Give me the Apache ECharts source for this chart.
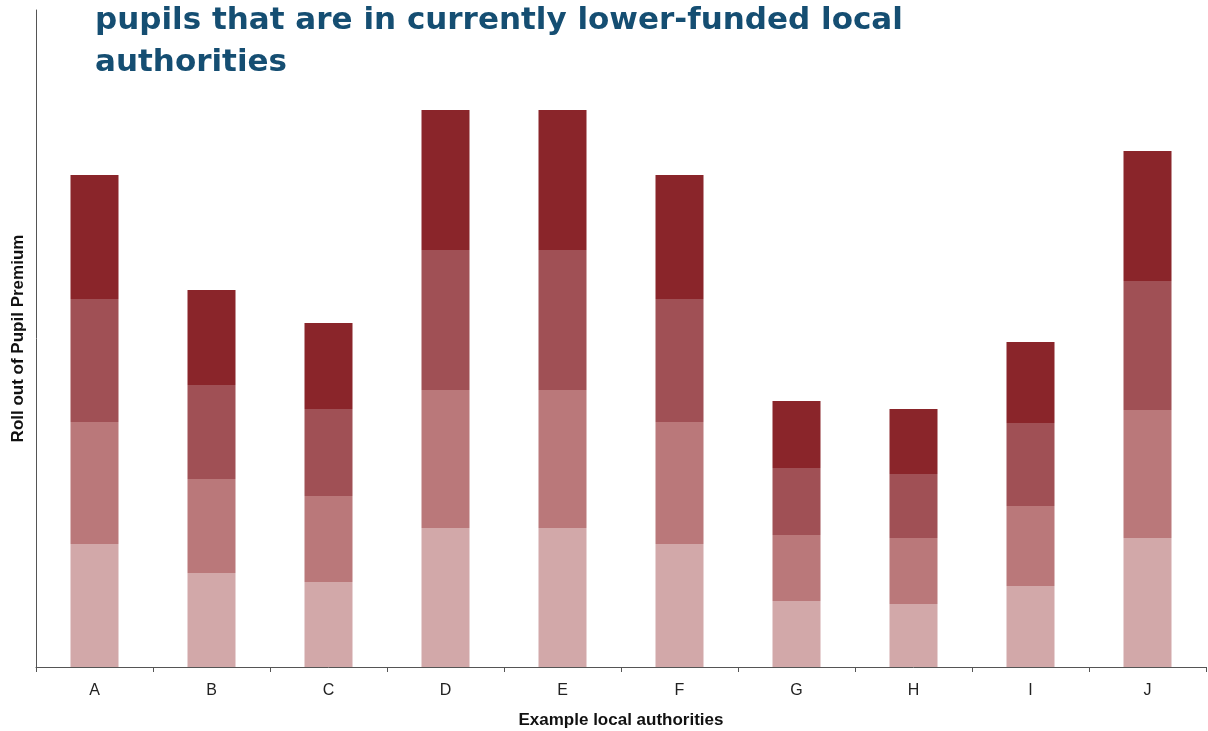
<!DOCTYPE html>
<html>
<head>
<meta charset="utf-8">
<script src="https://cdn.jsdelivr.net/npm/echarts@6/dist/echarts.min.js"></script>
<style>
  html, body { margin: 0; padding: 0; background: #fff; }
  #chart { width: 1208px; height: 731px; }
</style>
</head>
<body>
<div id="chart"></div>
<script>
// categories and stacked segment heights (axis has no scale)
const authorities = ['A', 'B', 'C', 'D', 'E', 'F', 'G', 'H', 'I', 'J']
const stage1 = [123, 94, 85, 139, 139, 123, 66, 63, 81, 129]
const stage2 = [122, 94, 86, 138, 138, 122, 66, 66, 80, 128]
const stage3 = [123, 94, 87, 140, 140, 123, 67, 64, 83, 129]
const stage4 = [124, 95, 86, 140, 140, 124, 67, 65, 81, 130]
const stageNames = ['Stage 1', 'Stage 2', 'Stage 3', 'Stage 4']
const stageColors = ['#d2a8a9', '#ba787a', '#a05055', '#8a252a']

const chart = echarts.init(document.getElementById('chart'))

const makeSeries = (name, data, color) => {
  return {
    name,
    type: 'bar',
    stack: 'rollout',
    barWidth: 48,
    data,
    itemStyle: { color },
    emphasis: { disabled: true }
  }
}

const option = {
  animation: false,
  title: {
    text: 'pupils that are in currently lower-funded local\nauthorities',
    left: 90,
    top: -5,
    textStyle: {
      fontFamily: 'DejaVu Sans',
      fontWeight: 'bold',
      fontSize: 31,
      lineHeight: 42,
      color: '#154e72'
    }
  },
  grid: {
    left: 36,
    right: 2,
    top: 10,
    bottom: 64,
    outerBoundsMode: 'none'
  },
  xAxis: {
    type: 'category',
    data: authorities,
    name: 'Example local authorities',
    nameLocation: 'middle',
    nameGap: 45,
    nameTextStyle: {
      fontFamily: 'Liberation Sans',
      fontWeight: 'bold',
      fontSize: 17,
      color: '#111'
    },
    axisLine: { lineStyle: { color: '#555', width: 1 } },
    axisTick: { show: true, length: 5, lineStyle: { color: '#555' } },
    axisLabel: {
      margin: 16,
      fontFamily: 'Liberation Sans',
      fontSize: 16,
      color: '#222'
    }
  },
  yAxis: {
    type: 'value',
    min: 0,
    max: 657,
    name: 'Roll out of Pupil Premium',
    nameLocation: 'middle',
    nameGap: 9,
    nameRotate: 90,
    nameTextStyle: {
      fontFamily: 'Liberation Sans',
      fontWeight: 'bold',
      fontSize: 17,
      color: '#111'
    },
    axisLine: { show: true, lineStyle: { color: '#555', width: 1 } },
    axisTick: { show: false },
    axisLabel: { show: false },
    splitLine: { show: false }
  },
  series: [
    makeSeries(stageNames[0], stage1, stageColors[0]),
    makeSeries(stageNames[1], stage2, stageColors[1]),
    makeSeries(stageNames[2], stage3, stageColors[2]),
    makeSeries(stageNames[3], stage4, stageColors[3])
  ]
}

chart.setOption(option)
</script>
</body>
</html>
